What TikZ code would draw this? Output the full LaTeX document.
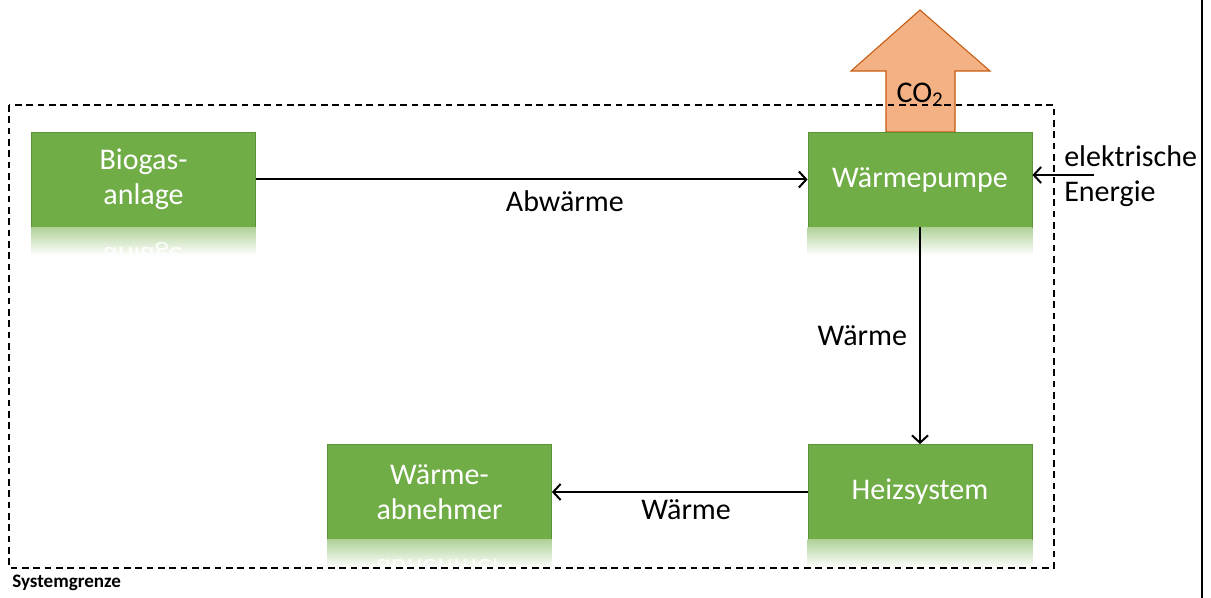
\documentclass[tikz,border=0pt]{standalone}
\usepackage{fontspec}
\setmainfont{Carlito}
\usepackage{tikz}
\usetikzlibrary{arrows.meta,calc}
\definecolor{boxgreen}{HTML}{70AD47}
\definecolor{boxedge}{HTML}{5E9239}
\definecolor{co2fill}{HTML}{F4B183}
\definecolor{co2edge}{HTML}{C55A11}
\tikzset{
	boxtext/.style={
			text=white, align=center, font=\fontsize{22.5}{26.5}\selectfont
		},
	block/.style={
			boxtext, draw=boxedge, fill=boxgreen, line width=0.6pt,
			minimum width=168pt, minimum height=71.25pt, inner sep=0pt
		},
	flow/.style={line width=1.5pt, -{Straight Barb[length=5.5pt,width=12pt,line width=1.5pt]}},
	flowtext/.style={font=\fontsize{22.5}{26.5}\selectfont, inner sep=0pt},
	grenzlinie/.style={line width=1pt, dash pattern=on 5pt off 3.5pt}
}
% Spiegelung unter einem Kasten (#2: unterste Textzeile)
\newcommand{\spiegel}[2]{%
	\begin{scope}
		\clip (#1.south west) rectangle ($(#1.south east)+(0,28)$);
		\fill[top color=boxgreen!55, bottom color=white] (#1.south west) rectangle ($(#1.south east)+(0,28)$);
		\node[boxtext, yscale=-1, anchor=base, inner sep=0pt, opacity=0.85] at ($(#1.south)+(0,20)$) {#2};
	\end{scope}}

\begin{document}
\begin{tikzpicture}[x=0.75pt,y=-0.75pt]
	\useasboundingbox (0,0) rectangle (1211,598);
	% CO2-Pfeil
	\draw[fill=co2fill, draw=co2edge, line width=0.8pt] (886,132) -- (886,71) -- (851,71) -- (920,10) -- (990,71) -- (955,71) -- (955,132) -- cycle;
	\node[flowtext] (co2) at (920,95) {CO\textsubscript{2}};
	% Kaesten
	\node[block] (bio) at (143.5,179.5) {Biogas-\\anlage};
	\node[block] (wp) at (920,179.5) {Wärmepumpe};
	\node[block] (heiz) at (920,492) {Heizsystem};
	\node[block] (abn) at (439.5,492) {Wärme-\\abnehmer};
	\spiegel{bio}{anlage}
	\spiegel{wp}{}
	\spiegel{heiz}{}
	\spiegel{abn}{abnehmer}
	% Systemgrenze
	\draw[grenzlinie] (9,105) rectangle (1054,568);
	\node[font=\bfseries\fontsize{14.3}{16}\selectfont, anchor=west, inner sep=0pt] (grenze) at (12,583) {Systemgrenze};
	\draw[line width=1.5pt] (1202,0) -- (1202,598);
	% Stroeme
	\draw[flow] (bio) -- node[flowtext, pos=0.56, below=8pt] {Abwärme} (wp);
	\draw[flow] (wp) -- node[flowtext, midway, left=9pt] {Wärme} (heiz);
	\draw[flow] (heiz) -- node[flowtext, pos=0.475, below=5pt] {Wärme} (abn);
	\coordinate (strom) at (1094,175);
	\draw[flow] (strom) -- (wp.east |- strom);
	\node[flowtext, anchor=west, align=left] (elek) at (1064,176) {elektrische\\Energie};
\end{tikzpicture}
\end{document}
